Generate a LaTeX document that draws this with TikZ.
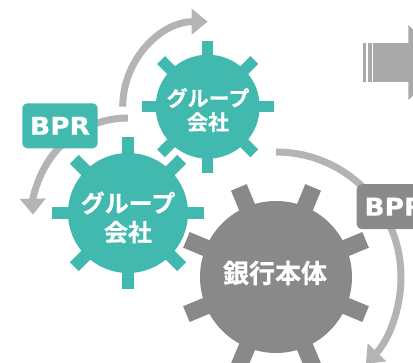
\documentclass[tikz,border=0pt]{standalone}
\usepackage{fontspec}
\newfontfamily\jpfont{Noto Sans CJK JP Bold}[FakeBold=0.6]
\newfontfamily\latinfont{DejaVu Sans Bold}[FakeStretch=1.08,FakeBold=0.5]
\usetikzlibrary{arrows.meta}
\definecolor{tealA}{HTML}{42B9AE}
\definecolor{gearGray}{HTML}{898989}
\definecolor{arcGray}{HTML}{B4B4B4}
\definecolor{boxGray}{HTML}{8A8A8A}
\definecolor{bigArrow}{HTML}{A9A9A9}
\newcommand\gearfill[7]{%
  \begin{scope}[shift={(#1,#2)}]
    \fill[#7] (0,0) circle[radius=#3];
    \foreach \a in {0,45,...,315}{
      \fill[#7,rotate=\a+#6] (0,-#5/2) rectangle (#4,#5/2);
    }
  \end{scope}}
\tikzset{
  bparc/.style={draw=arcGray,line width=7pt,-{Triangle[length=16pt,width=25pt]}},
  bprbox/.style={rounded corners=5pt,minimum width=75.4pt,minimum height=45pt,inner sep=0pt,
    text=white,font=\latinfont\fontsize{24.5}{24.5}\selectfont},
  geartext/.style={text=white,align=center,inner sep=0pt}
}
\begin{document}
\begin{tikzpicture}[x=1pt,y=1pt]
\useasboundingbox (0,0) rectangle (413,363);
\clip (0,0) rectangle (413,363);
% big arrow at top right
\fill[bigArrow] (363,281.3) rectangle (366,319.7);
\fill[bigArrow] (367.7,281.3) rectangle (372,319.7);
\fill[bigArrow] (373.3,281.3) rectangle (408.6,319.7);
\fill[bigArrow] (408.3,263) -- (446,300.5) -- (408.3,338) -- cycle;
% connectors
\coordinate (upstart) at (122.7,256.3);
\coordinate (leftstart) at (128,245);
\coordinate (rightstart) at (276,211);
\draw[bparc] (upstart) arc[start angle=180,end angle=90,radius=85];
\draw[bparc] (leftstart) arc[start angle=90,end angle=181,radius=95];
\draw[bparc] (rightstart) arc[start angle=90,end angle=-44,radius=125];
% gears
\gearfill{207.7}{256.3}{52}{66}{11}{0}{tealA}
\gearfill{128}{150}{62.5}{78.5}{17.5}{0}{white}
\gearfill{128}{150}{60}{76}{12.5}{0}{tealA}
\gearfill{276}{86}{78.5}{99.5}{21.5}{22.5}{white}
\gearfill{276}{86}{76}{97}{17}{22.5}{gearGray}
% texts
\node[geartext,font=\jpfont\fontsize{21}{24}\selectfont] (g1) at (208,253) {グループ\\会社};
\node[geartext,font=\jpfont\fontsize{24}{29}\selectfont] (g2) at (128,145.5) {グループ\\会社};
\node[geartext,font=\jpfont\fontsize{26}{30}\selectfont] (bank) at (275,90) {銀行本体};
\node[bprbox,fill=tealA] (bpr1) at (60,237.2) {BPR};
\node[bprbox,fill=boxGray] (bpr2) at (394.4,156.3) {BPR};
\end{tikzpicture}
\end{document}
